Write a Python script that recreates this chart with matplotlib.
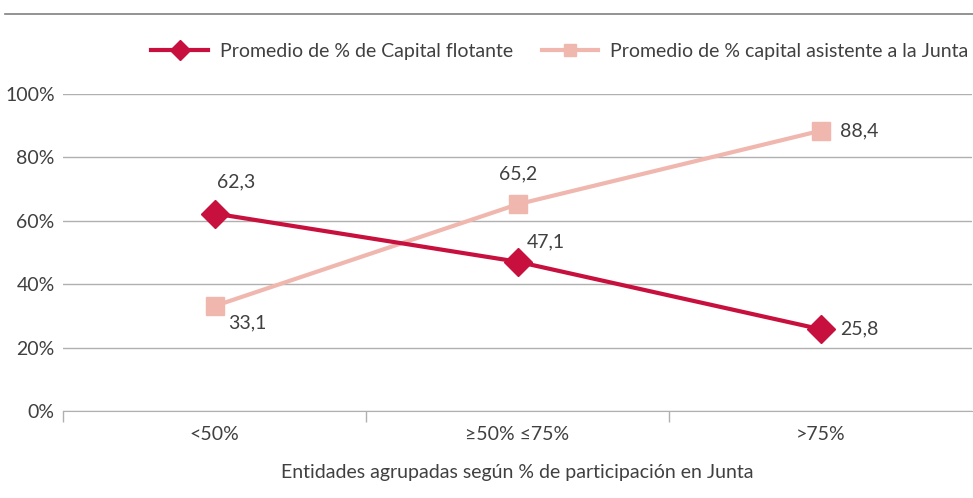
import numpy as np
import matplotlib.pyplot as plt
import matplotlib.lines as mlines

plt.rcParams['font.family'] = ['Lato', 'DejaVu Sans']

categories = ['<50%', '≥50% ≤75%', '>75%']
flotante = [62.3, 47.1, 25.8]
asistente = [33.1, 65.2, 88.4]
flotante_labels = ['62,3', '47,1', '25,8']
asistente_labels = ['33,1', '65,2', '88,4']

dark = '#C8103E'
light = '#F0B7AF'
txt = '#404040'
grid = '#B0B0B0'
fs = 14

fig = plt.figure(figsize=(9.73, 4.98), dpi=100)
ax = fig.add_axes([63 / 973, 1 - 411 / 498, 909 / 973, (411 - 94) / 498])

x = np.arange(len(categories))
ax.plot(x, flotante, color=dark, lw=3, marker='D', ms=14, zorder=3,
        label='Promedio de % de Capital flotante')
ax.plot(x, asistente, color=light, lw=3, marker='s', ms=13, zorder=2,
        label='Promedio de % capital asistente a la Junta')

# data labels
offs_f = [(2, 23), (7, 14), (14, 0)]
offs_a = [(10, -12), (-13, 22), (14, 0)]
for i in range(3):
    ax.annotate(flotante_labels[i], (x[i], flotante[i]), xytext=offs_f[i],
                textcoords='offset points', fontsize=fs, color=txt,
                ha='left', va='center')
    ax.annotate(asistente_labels[i], (x[i], asistente[i]), xytext=offs_a[i],
                textcoords='offset points', fontsize=fs, color=txt,
                ha='left', va='center')

ax.set_xlim(-0.5, 2.5)
ax.set_ylim(0, 100)
ax.set_yticks(np.arange(0, 101, 20))
ax.set_yticklabels([f'{v}%' for v in range(0, 101, 20)])
ax.yaxis.grid(True, color=grid, lw=1)
ax.set_axisbelow(True)
ax.tick_params(axis='y', length=0, labelsize=fs, labelcolor=txt, pad=6)

ax.set_xticks(x)
ax.set_xticklabels(categories)
ax.set_xticks([-0.5, 0.5, 1.5], minor=True)
ax.tick_params(axis='x', which='major', length=0, labelsize=fs, labelcolor=txt, pad=11)
ax.tick_params(axis='x', which='minor', length=8, color=grid, width=1)

for s in ['top', 'right', 'left']:
    ax.spines[s].set_visible(False)
ax.spines['bottom'].set_color(grid)

ax.set_xlabel('Entidades agrupadas según % de participación en Junta',
              fontsize=fs, color=txt, labelpad=15)

leg = fig.legend(loc='center right', bbox_to_anchor=(1.013, 1 - 51 / 498), ncol=2,
                 frameon=False, fontsize=fs, handlelength=2.9, columnspacing=1.5,
                 handletextpad=0.6, markerscale=0.7, labelcolor=txt)

# top rule
fig.add_artist(mlines.Line2D([5 / 973, 1], [1 - 14 / 498] * 2, color='#808080', lw=1.2))

fig.savefig('out.png', dpi=100)
